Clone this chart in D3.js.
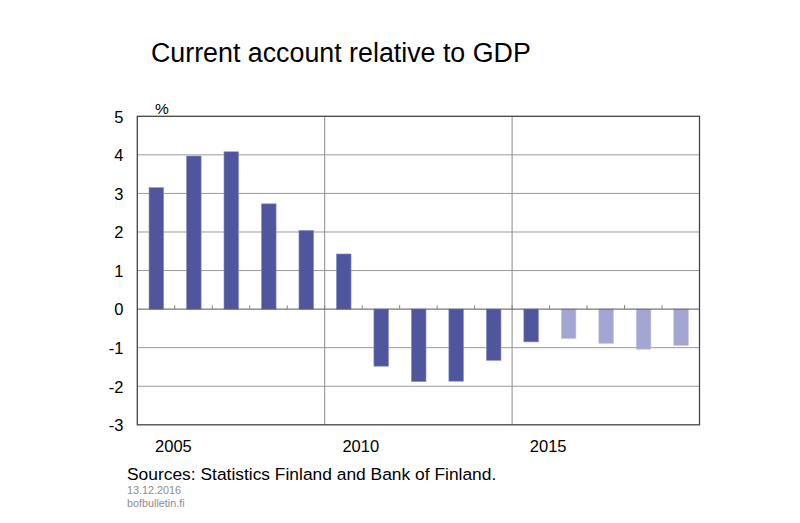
<!DOCTYPE html>
<html><head><meta charset="utf-8">
<script src="https://cdn.jsdelivr.net/npm/d3@7"></script>
<style>body{margin:0;background:#fff;} svg{display:block;font-family:"Liberation Sans",Arial,sans-serif;}</style>
</head><body>
<svg id="c" width="800" height="523"></svg>
<script>
const years = [2005,2006,2007,2008,2009,2010,2011,2012,2013,2014,2015,2016,2017,2018,2019];
const values = [3.15,3.97,4.08,2.73,2.04,1.43,-1.48,-1.88,-1.87,-1.33,-0.85,-0.76,-0.89,-1.04,-0.94];
const forecast = [false,false,false,false,false,false,false,false,false,false,false,true,true,true,true];
const yTicks = [-3,-2,-1,0,1,2,3,4,5];
const xLabels = [2005,2010,2015];
const dividers = [2010,2015];

const svg = d3.select("#c");
const L=137.3, R=699.5, T=116.3, B=424.8;
const x = d3.scaleBand().domain(years).range([L,R]).paddingInner(0).paddingOuter(0);
const y = d3.scaleLinear().domain([-3,5]).range([B,T]);

// gridlines
svg.append("g").selectAll("line").data(yTicks.filter(d=>d!==-3&&d!==5&&d!==0)).join("line")
  .attr("x1",L).attr("x2",R).attr("y1",d=>y(d)).attr("y2",d=>y(d))
  .attr("stroke","#9a9a9a").attr("stroke-width",1);
// dividers
svg.append("g").selectAll("line").data(dividers).join("line")
  .attr("x1",d=>x(d)).attr("x2",d=>x(d)).attr("y1",T).attr("y2",B)
  .attr("stroke","#8a8a8a").attr("stroke-width",1);

// bars
const bw = x.bandwidth()*0.39;
svg.append("g").selectAll("rect").data(years).join("rect")
  .attr("x",(d)=>x(d)+x.bandwidth()/2-bw/2+0.3)
  .attr("width",bw)
  .attr("y",(d,i)=>y(Math.max(0,values[i])))
  .attr("height",(d,i)=>Math.abs(y(values[i])-y(0)))
  .attr("fill",(d,i)=>forecast[i]?"#a3a6d3":"#4f569d")
  .attr("stroke",(d,i)=>forecast[i]?"#c4c6e8":"#8a8fc8").attr("stroke-width",0.6);

// zero line
svg.append("line").attr("x1",L).attr("x2",R).attr("y1",y(0)).attr("y2",y(0))
  .attr("stroke","#555").attr("stroke-width",1);
// ticks on zero line
svg.append("g").selectAll("line").data(years.slice(1)).join("line")
  .attr("x1",d=>x(d)).attr("x2",d=>x(d)).attr("y1",y(0)).attr("y2",y(0)-4)
  .attr("stroke","#888").attr("stroke-width",1);

// frame
svg.append("rect").attr("x",L).attr("y",T).attr("width",R-L).attr("height",B-T)
  .attr("fill","none").attr("stroke","#444").attr("stroke-width",1.3);

// y labels
svg.append("g").selectAll("text").data(yTicks).join("text")
  .attr("x",123.5).attr("y",d=>y(d)+6.3).attr("text-anchor","end")
  .attr("font-size",16.5).attr("fill","#000").text(d=>d);
svg.append("text").attr("x",155).attr("y",114.3).attr("font-size",15.5).text("%");

// x labels (start at band centre)
svg.append("g").selectAll("text").data(xLabels).join("text")
  .attr("x",d=>x(d)+x.bandwidth()/2-1).attr("y",451.7).attr("text-anchor","start")
  .attr("font-size",16.5).text(d=>d);

// title
svg.append("text").attr("x",151).attr("y",61.7).attr("font-size",26.8).attr("fill","#000")
  .text("Current account relative to GDP");
svg.append("text").attr("x",127).attr("y",480).attr("font-size",17.4).attr("fill","#000")
  .text("Sources: Statistics Finland and Bank of Finland.");
svg.append("text").attr("x",127).attr("y",494).attr("font-size",10.8).attr("fill","#8c8c8c").text("13.12.2016");
svg.append("text").attr("x",127).attr("y",506.5).attr("font-size",10.8).attr("fill","#8c8c8c").text("bofbulletin.fi");
</script>
</body></html>
